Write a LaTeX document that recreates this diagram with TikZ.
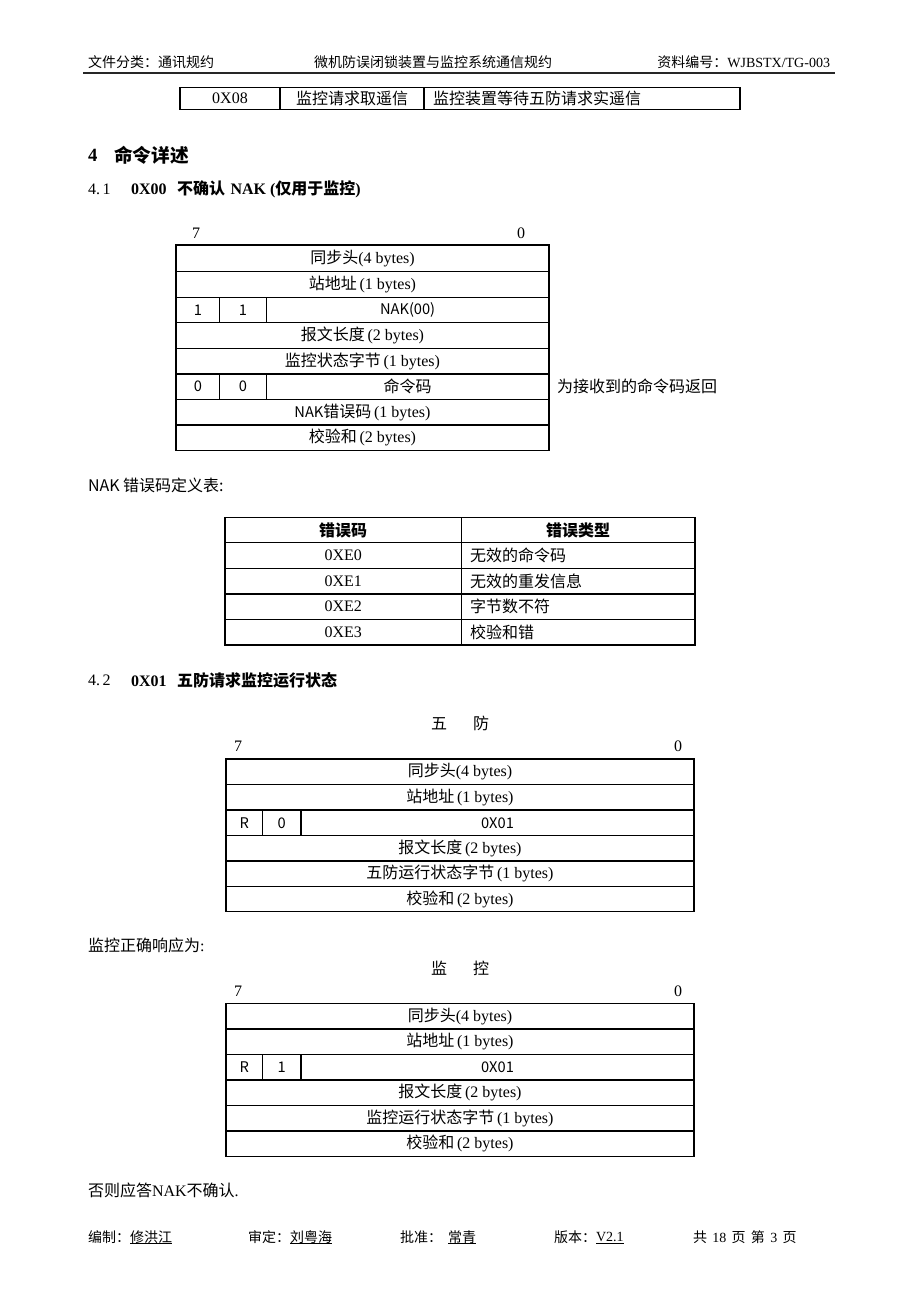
\documentclass[tikz,border=0pt]{standalone}
\usepackage{fontspec}
\setmainfont{Liberation Serif}
\newfontfamily\cjk{Noto Sans CJK SC}
\newcommand\zh[1]{{\cjk #1}}
\begin{document}
\begin{tikzpicture}[x=0.75pt,y=-0.75pt,
  every node/.style={inner sep=0pt, outer sep=0pt},
  hdr/.style={font=\fontsize{10.5}{12}\selectfont},
  body/.style={font=\fontsize{12}{14}\selectfont},
  bodyb/.style={font=\fontsize{12}{14}\selectfont\bfseries},
  sans/.style={font=\cjk\fontsize{11}{13}\selectfont},
  tline/.style={line width=0.8pt, draw=black}]
\useasboundingbox (0,0) rectangle (920,1302);
\fill[white] (0,0) rectangle (920,1302);

% ---------- header ----------
\node[hdr, anchor=west] (h1) at (88,62) {\zh{文件分类：通讯规约}};
\node[hdr] (h2) at (433,62) {\zh{微机防误闭锁装置与监控系统通信规约}};
\node[hdr, anchor=east] (h3) at (830,62) {\zh{资料编号：}WJBSTX/TG-003};
\draw[line width=1.6pt, black!85] (83,73) -- (835,73);

% ---------- top table row ----------
\draw[tline] (180,87.5) rectangle (740,109.5);
\draw[tline] (280,87.5) -- (280,109.5) (424,87.5) -- (424,109.5);
\node[body] (t0a) at (230,98.5) {0X08};
\node[body] (t0b) at (352,98.5) {\zh{监控请求取遥信}};
\node[body, anchor=west] (t0c) at (433,98.5) {\zh{监控装置等待五防请求实遥信}};

% ---------- section 4 ----------
\node[anchor=west, font=\fontsize{14}{16}\selectfont\bfseries] (s4) at (88,155) {4};
\node[anchor=west, font=\fontsize{14}{16}\selectfont\bfseries] (s4t) at (114,155) {\zh{命令详述}};
\node[body, anchor=west] (s41) at (88,189) {4.\,1};
\node[bodyb, anchor=west] (s41t) at (131,189) {0X00\hspace{8pt}\zh{不确认}\hspace{4pt}NAK\hspace{3pt}(\zh{仅用于监控})};

% ---------- table 1 ----------
\node[body] (a7l) at (196,233) {7};
\node[body] (a0l) at (521,233) {0};
\draw[tline] (176,245) rectangle (549,450.7);
\foreach \y in {271.7,297.3,322.7,348.3,374,399.3,425}
  \draw[tline] (176,\y) -- (549,\y);
\draw[tline] (219.7,297.3) -- (219.7,322.7) (266.2,297.3) -- (266.2,322.7);
\draw[tline] (219.7,374) -- (219.7,399.3) (266.2,374) -- (266.2,399.3);
\node[body] (a1) at (362.5,258.3) {\zh{同步头}(4 bytes)};
\node[body] (a2) at (362.5,284.5) {\zh{站地址}\,(1 bytes)};
\node[sans] (a3a) at (198,310) {1};
\node[sans] (a3b) at (243,310) {1};
\node[sans] (a3c) at (407.6,310) {NAK(00)};
\node[body] (a4) at (362.5,335.5) {\zh{报文长度}\,(2 bytes)};
\node[body] (a5) at (362.5,361.2) {\zh{监控状态字节}\,(1 bytes)};
\node[sans] (a6a) at (198,386.7) {0};
\node[sans] (a6b) at (243,386.7) {0};
\node[body] (a6c) at (407.6,386.7) {\zh{命令码}};
\node[body] (a7) at (362.5,412.2) {{\cjk\fontsize{11}{13}\selectfont NAK}\zh{错误码}\,(1 bytes)};
\node[body] (a8) at (362.5,437.9) {\zh{校验和}\,(2 bytes)};
\node[body, anchor=west] (a6n) at (557,386.7) {\zh{为接收到的命令码返回}};

% ---------- NAK error table ----------
\node[anchor=west, font=\cjk\fontsize{12}{14}\selectfont] (nakt) at (88,485) {NAK 错误码定义表:};
\draw[tline] (225,517.7) rectangle (695,645);
\foreach \y in {542.7,568.7,594,619.3}
  \draw[tline] (225,\y) -- (695,\y);
\draw[tline] (461.5,517.7) -- (461.5,645);
\node[font=\cjk\bfseries\fontsize{12}{14}\selectfont] (b0a) at (343.2,530.2) {错误码};
\node[font=\cjk\bfseries\fontsize{12}{14}\selectfont] (b0b) at (578.2,530.2) {错误类型};
\node[body] (b1a) at (343.2,555.7) {0XE0};
\node[body, anchor=west] (b1b) at (470,555.7) {\zh{无效的命令码}};
\node[body] (b2a) at (343.2,581.3) {0XE1};
\node[body, anchor=west] (b2b) at (470,581.3) {\zh{无效的重发信息}};
\node[body] (b3a) at (343.2,606.7) {0XE2};
\node[body, anchor=west] (b3b) at (470,606.7) {\zh{字节数不符}};
\node[body] (b4a) at (343.2,632.1) {0XE3};
\node[body, anchor=west] (b4b) at (470,632.1) {\zh{校验和错}};

% ---------- section 4.2 ----------
\node[body, anchor=west] (s42) at (88,680) {4.\,2};
\node[bodyb, anchor=west] (s42t) at (131,680) {0X01\hspace{8pt}\zh{五防请求监控运行状态}};

% ---------- table 3 (wufang) ----------
\node[body] (c5) at (460,723) {\zh{五}\hspace{19.5pt}\zh{防}};
\node[body] (c7l) at (238,746.7) {7};
\node[body] (c0l) at (678,746.7) {0};
\draw[tline] (226,759) rectangle (694,911.7);
\foreach \y in {784.3,810,835.7,861,886.7}
  \draw[tline] (226,\y) -- (694,\y);
\draw[tline] (262.7,810) -- (262.7,835.7) (301,810) -- (301,835.7);
\node[body] (c1) at (460,771.7) {\zh{同步头}(4 bytes)};
\node[body] (c2) at (460,797.2) {\zh{站地址}\,(1 bytes)};
\node[sans] (c3a) at (244.3,822.9) {R};
\node[sans] (c3b) at (281.8,822.9) {0};
\node[sans] (c3c) at (497.5,822.9) {0X01};
\node[body] (c4) at (460,848.4) {\zh{报文长度}\,(2 bytes)};
\node[body] (c5r) at (460,873.9) {\zh{五防运行状态字节}\,(1 bytes)};
\node[body] (c6) at (460,899.2) {\zh{校验和}\,(2 bytes)};

% ---------- table 4 (jiankong) ----------
\node[body, anchor=west] (resp) at (88,945) {\zh{监控正确响应为}:};
\node[body] (d5) at (460,968) {\zh{监}\hspace{19.5pt}\zh{控}};
\node[body] (d7l) at (238,991.7) {7};
\node[body] (d0l) at (678,991.7) {0};
\draw[tline] (226,1003.3) rectangle (694,1156.3);
\foreach \y in {1029,1054.3,1080,1105.7,1131}
  \draw[tline] (226,\y) -- (694,\y);
\draw[tline] (262.7,1054.3) -- (262.7,1080) (301,1054.3) -- (301,1080);
\node[body] (d1) at (460,1016.2) {\zh{同步头}(4 bytes)};
\node[body] (d2) at (460,1041.7) {\zh{站地址}\,(1 bytes)};
\node[sans] (d3a) at (244.3,1067.2) {R};
\node[sans] (d3b) at (281.8,1067.2) {1};
\node[sans] (d3c) at (497.5,1067.2) {0X01};
\node[body] (d4) at (460,1092.9) {\zh{报文长度}\,(2 bytes)};
\node[body] (d5r) at (460,1118.4) {\zh{监控运行状态字节}\,(1 bytes)};
\node[body] (d6) at (460,1143.7) {\zh{校验和}\,(2 bytes)};

\node[body, anchor=west] (otherw) at (88,1190) {\zh{否则应答}NAK\zh{不确认}.};

% ---------- footer ----------
\node[hdr, anchor=west] (f1a) at (88,1237) {\zh{编制：}};
\node[hdr, anchor=west] (f1b) at (130,1237) {\zh{修洪江}};
\node[hdr, anchor=west] (f2a) at (248,1237) {\zh{审定：}};
\node[hdr, anchor=west] (f2b) at (290,1237) {\zh{刘粤海}};
\node[hdr, anchor=west] (f3a) at (400,1237) {\zh{批准：}};
\node[hdr, anchor=west] (f3b) at (448,1237) {\zh{常青}};
\node[hdr, anchor=west] (f4a) at (554,1237) {\zh{版本：}};
\node[hdr, anchor=west] (f4b) at (596,1237) {V2.1};
\node[hdr, anchor=west] (f5) at (693,1237) {\zh{共}\hspace{4pt}18\hspace{4pt}\zh{页}\hspace{4pt}\zh{第}\hspace{4pt}3\hspace{4pt}\zh{页}};
\foreach \n in {f1b,f2b,f3b,f4b}
  \draw[line width=0.6pt] (\n.west |- f1b.south) -- (\n.east |- f1b.south);
\end{tikzpicture}
\end{document}
